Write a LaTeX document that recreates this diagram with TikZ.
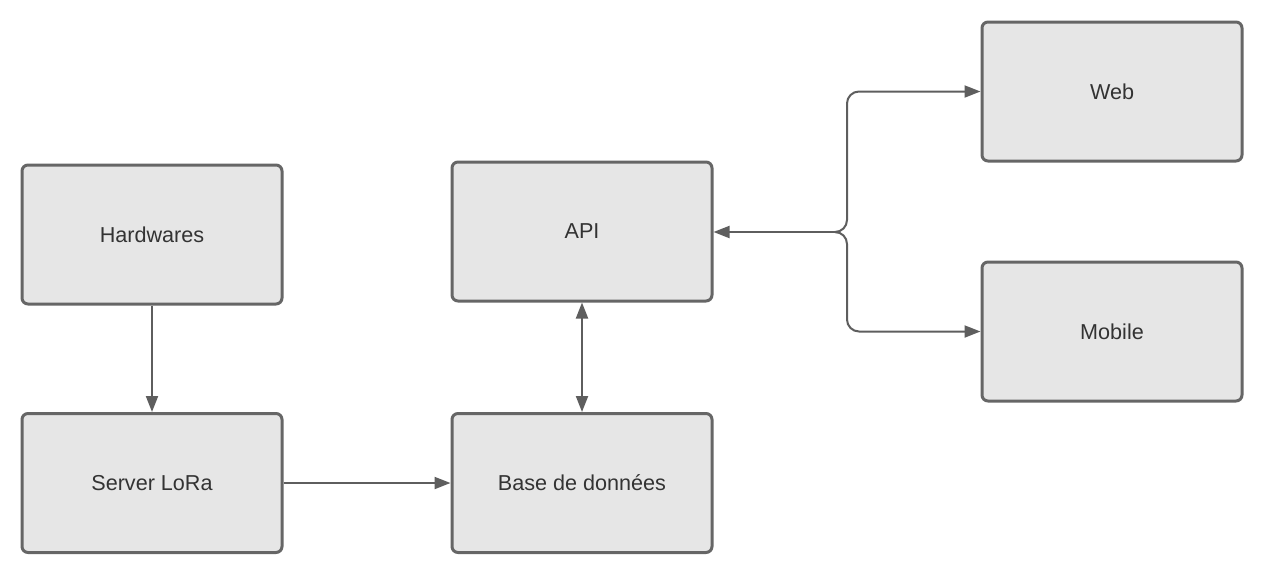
\documentclass[tikz,border=0pt]{standalone}
\usepackage{fontspec}
\setmainfont{Liberation Sans}
\usetikzlibrary{arrows.meta,calc}
\definecolor{boxfill}{HTML}{E6E6E6}
\definecolor{boxline}{HTML}{666666}
\definecolor{lineclr}{HTML}{5E5E5E}
\definecolor{txtclr}{HTML}{333333}
\tikzset{>={Triangle[length=8pt,width=6pt]},
  every node/.style={font=\fontsize{10.8}{13}\selectfont,text=txtclr},
  block/.style={draw=boxline,fill=boxfill,line width=1.5pt,rounded corners=3pt,minimum width=130pt,minimum height=69.5pt,inner sep=0pt},
  conn/.style={draw=lineclr,line width=1pt}}
\begin{document}
\begin{tikzpicture}[x=0.5pt,y=-0.5pt]
\useasboundingbox (0,0) rectangle (1263,574);
\node[block] (hw) at (152,234.5) {Hardwares};
\node[block] (lora) at (152,483) {Server LoRa};
\node[block] (api) at (582,231.5) {API};
\node[block] (db) at (582,483) {Base de données};
\node[block] (web) at (1112,91.5) {Web};
\node[block] (mobile) at (1112,331.5) {Mobile};
\coordinate (jl) at (840,232);\coordinate (j) at (847,232);
\draw[conn,->] (hw) -- (lora);
\draw[conn,->] (lora) -- (db);
\draw[conn,<->] (api) -- (db);
\draw[conn,<-] (api.east |- jl) -- (jl);
\draw[conn,->,rounded corners=6pt] (jl) -| (j |- web.west) -- (web.west);
\draw[conn,->,rounded corners=6pt] (jl) -| (j |- mobile.west) -- (mobile.west);
\end{tikzpicture}
\end{document}
